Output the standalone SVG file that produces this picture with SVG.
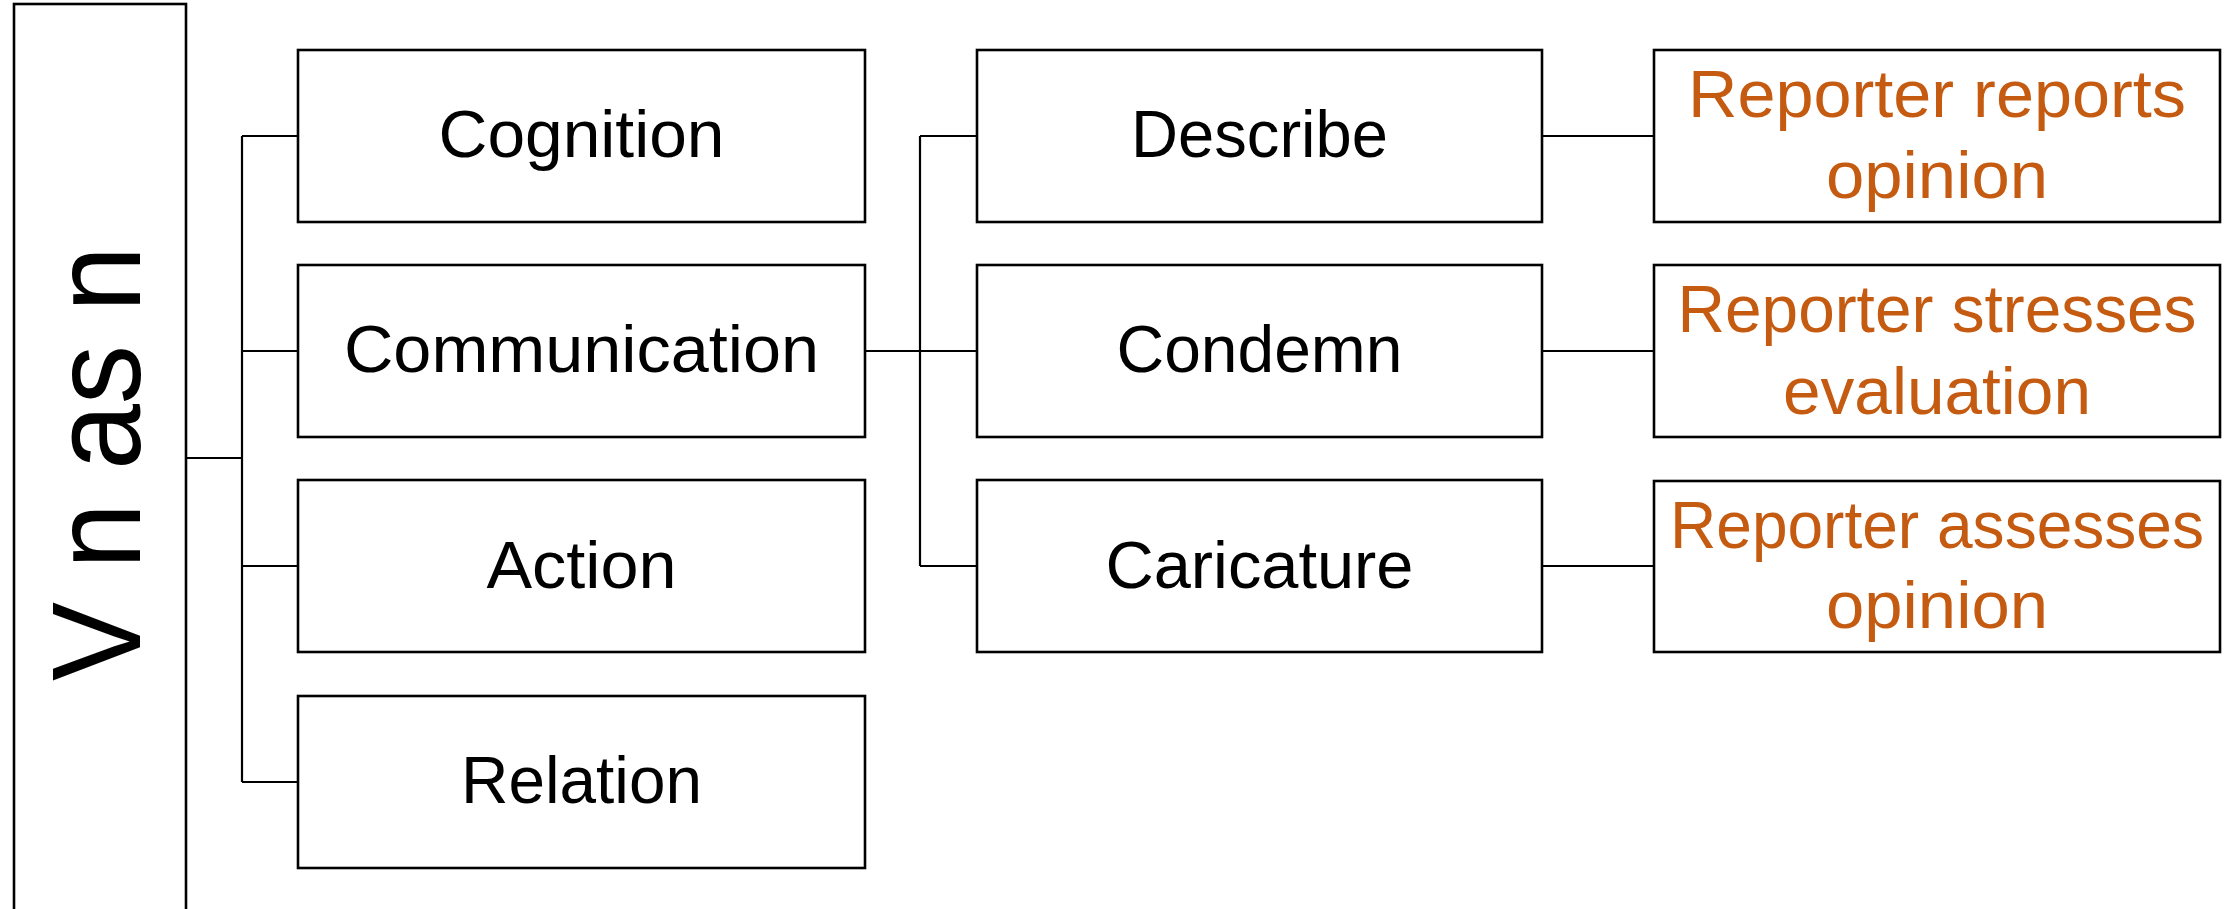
<svg xmlns="http://www.w3.org/2000/svg" width="2233" height="909" viewBox="0 0 2233 909">
<style>
.box{fill:#fff;stroke:#000;stroke-width:2.6}
.conn{fill:none;stroke:#000;stroke-width:2.2}
.t{font-family:"Liberation Sans",Arial,sans-serif;font-size:66px;fill:#000;text-anchor:middle}
.big{font-size:126px}
.o{fill:#C55A11}
</style>
<rect width="2233" height="909" fill="#fff"/>
<g id="connectors">
<path class="conn" d="M186,458 H242 M242,136 V782 M242,136 H298 M242,351 H298 M242,566 H298 M242,782 H298"/>
<path class="conn" d="M865,351 H977 M920,136 V566 M920,136 H977 M920,566 H977"/>
<path class="conn" d="M1542,136 H1654 M1542,351 H1654 M1542,566 H1654"/>
</g>
<g id="root">
<rect class="box" x="14" y="4" width="172" height="910"/>
<text class="t big" transform="translate(140,463.5) rotate(-90)" textLength="435" lengthAdjust="spacingAndGlyphs">V n as n</text>
</g>
<g id="cognition">
<rect class="box" x="298" y="50" width="567" height="172"/>
<text class="t" x="581.5" y="157" textLength="286" lengthAdjust="spacingAndGlyphs">Cognition</text>
</g>
<g id="communication">
<rect class="box" x="298" y="265" width="567" height="172"/>
<text class="t" x="581.5" y="372" textLength="475" lengthAdjust="spacingAndGlyphs">Communication</text>
</g>
<g id="action">
<rect class="box" x="298" y="480" width="567" height="172"/>
<text class="t" x="581.5" y="588" textLength="190" lengthAdjust="spacingAndGlyphs">Action</text>
</g>
<g id="relation">
<rect class="box" x="298" y="696" width="567" height="172"/>
<text class="t" x="581.5" y="803" textLength="241" lengthAdjust="spacingAndGlyphs">Relation</text>
</g>
<g id="describe">
<rect class="box" x="977" y="50" width="565" height="172"/>
<text class="t" x="1259.5" y="157" textLength="257" lengthAdjust="spacingAndGlyphs">Describe</text>
</g>
<g id="condemn">
<rect class="box" x="977" y="265" width="565" height="172"/>
<text class="t" x="1259.5" y="372" textLength="286" lengthAdjust="spacingAndGlyphs">Condemn</text>
</g>
<g id="caricature">
<rect class="box" x="977" y="480" width="565" height="172"/>
<text class="t" x="1259.5" y="588" textLength="308" lengthAdjust="spacingAndGlyphs">Caricature</text>
</g>
<g id="reports">
<rect class="box" x="1654" y="50" width="566" height="172"/>
<text class="t o" x="1937" y="116.5" textLength="498" lengthAdjust="spacingAndGlyphs">Reporter reports</text>
<text class="t o" x="1937" y="197.5" textLength="222" lengthAdjust="spacingAndGlyphs">opinion</text>
</g>
<g id="stresses">
<rect class="box" x="1654" y="265" width="566" height="172"/>
<text class="t o" x="1937" y="332" textLength="519" lengthAdjust="spacingAndGlyphs">Reporter stresses</text>
<text class="t o" x="1937" y="413.5" textLength="308" lengthAdjust="spacingAndGlyphs">evaluation</text>
</g>
<g id="assesses">
<rect class="box" x="1654" y="481" width="566" height="171"/>
<text class="t o" x="1937" y="547.5" textLength="534" lengthAdjust="spacingAndGlyphs">Reporter assesses</text>
<text class="t o" x="1937" y="628" textLength="222" lengthAdjust="spacingAndGlyphs">opinion</text>
</g>
</svg>
